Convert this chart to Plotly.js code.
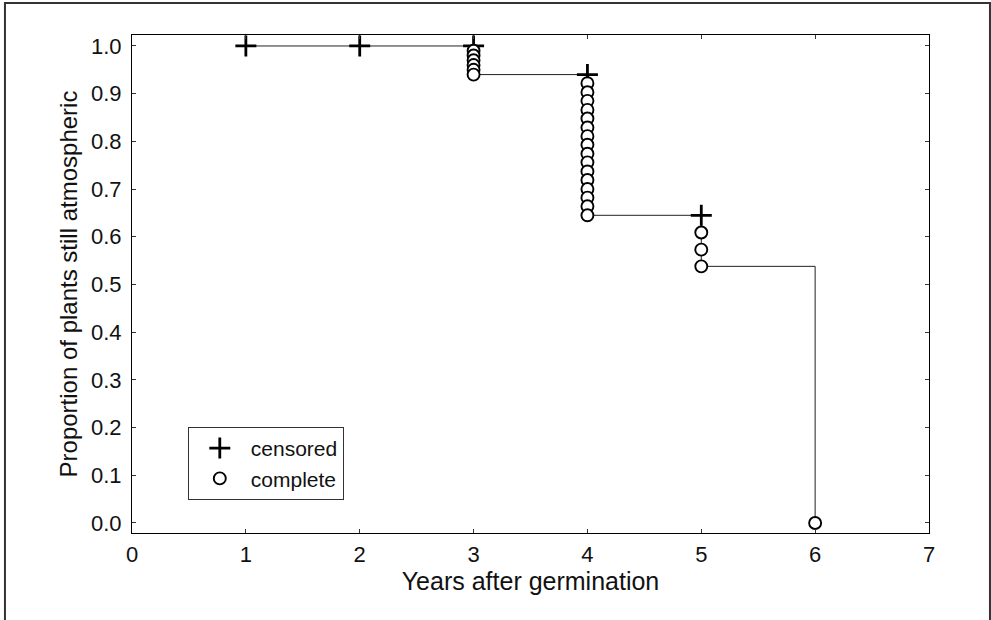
<!DOCTYPE html>
<html>
<head>
<meta charset="utf-8">
<script src="https://cdn.plot.ly/plotly-3.0.1.min.js"></script>
<style>html,body{margin:0;padding:0;background:#fff;}#chart{width:991px;height:620px;}</style>
</head>
<body>
<div id="chart"></div>
<script>
// Kaplan-Meier step curve (time, survival after the step)
const stepTimes = [1, 3, 4, 5, 6];
const stepSurvival = [1.0, 0.94, 0.645, 0.538, 0.0];

// Censored observations (+)
const censoredTimes = [1, 2, 3, 4, 5];
const censoredSurvival = [1.0, 1.0, 1.0, 0.94, 0.645];

// Complete observations (o)
const completeTimes = [3, 3, 3, 3, 3, 3,
  4, 4, 4, 4, 4, 4, 4, 4, 4, 4, 4, 4, 4, 4, 4, 4,
  5, 5, 5,
  6];
const completeSurvival = [0.99, 0.98, 0.97, 0.96, 0.95, 0.94,
  0.922, 0.903, 0.885, 0.866, 0.848, 0.829, 0.811, 0.793, 0.774, 0.756, 0.737, 0.719, 0.700, 0.682, 0.664, 0.645,
  0.609, 0.573, 0.538,
  0.0];

const xTickVals = [0, 1, 2, 3, 4, 5, 6, 7];
const yTickVals = [0.0, 0.1, 0.2, 0.3, 0.4, 0.5, 0.6, 0.7, 0.8, 0.9, 1.0];

const FONT = 'Liberation Sans, Arial, sans-serif';

const traces = [
  {
    x: stepTimes, y: stepSurvival, type: 'scatter', mode: 'lines',
    line: {shape: 'hv', color: '#222', width: 1},
    showlegend: false, hoverinfo: 'skip'
  },
  {
    x: censoredTimes, y: censoredSurvival, type: 'scatter', mode: 'markers',
    name: 'censored',
    marker: {symbol: 'cross-thin-open', size: 15, color: 'black', line: {color: 'black', width: 2.8}}
  },
  {
    x: completeTimes, y: completeSurvival, type: 'scatter', mode: 'markers',
    name: 'complete',
    marker: {symbol: 'circle', size: 12, color: 'white', line: {color: 'black', width: 1.9}}
  }
];

const axisCommon = {
  showline: true, linecolor: 'black', linewidth: 1, mirror: 'ticks',
  ticks: 'inside', ticklen: 4, tickwidth: 1, tickcolor: '#333',
  showgrid: false, zeroline: false,
  tickfont: {family: FONT, size: 22, color: '#111'}
};

const layout = {
  width: 991, height: 620,
  paper_bgcolor: 'white', plot_bgcolor: 'white',
  margin: {l: 132, r: 62, t: 35, b: 87},
  font: {family: FONT, color: '#111'},
  xaxis: Object.assign({}, axisCommon, {
    range: [0, 7], tickvals: xTickVals, ticktext: xTickVals.map(String),
    ticklabelstandoff: 2,
    title: {text: 'Years after germination', font: {family: FONT, size: 25}, standoff: 3}
  }),
  yaxis: Object.assign({}, axisCommon, {
    range: [-0.021, 1.023], tickvals: yTickVals, ticktext: yTickVals.map(v => v.toFixed(1)),
    ticklabelstandoff: 5,
    title: {text: 'Proportion of plants still atmospheric', font: {family: FONT, size: 24}, standoff: 6}
  }),
  legend: {
    x: 0.07, y: 0.213, xanchor: 'left', yanchor: 'top',
    bgcolor: 'white', bordercolor: '#333', borderwidth: 1,
    font: {family: FONT, size: 21, color: '#111'},
    itemwidth: 52
  },
  shapes: [{
    type: 'rect', xref: 'paper', yref: 'paper',
    x0: -0.1594, x1: 1.0765, y0: -0.2, y1: 1.0643,
    line: {color: '#333', width: 2}, fillcolor: 'rgba(0,0,0,0)', layer: 'below'
  }]
};

Plotly.newPlot('chart', traces, layout, {displayModeBar: false, staticPlot: true});
</script>
</body>
</html>
